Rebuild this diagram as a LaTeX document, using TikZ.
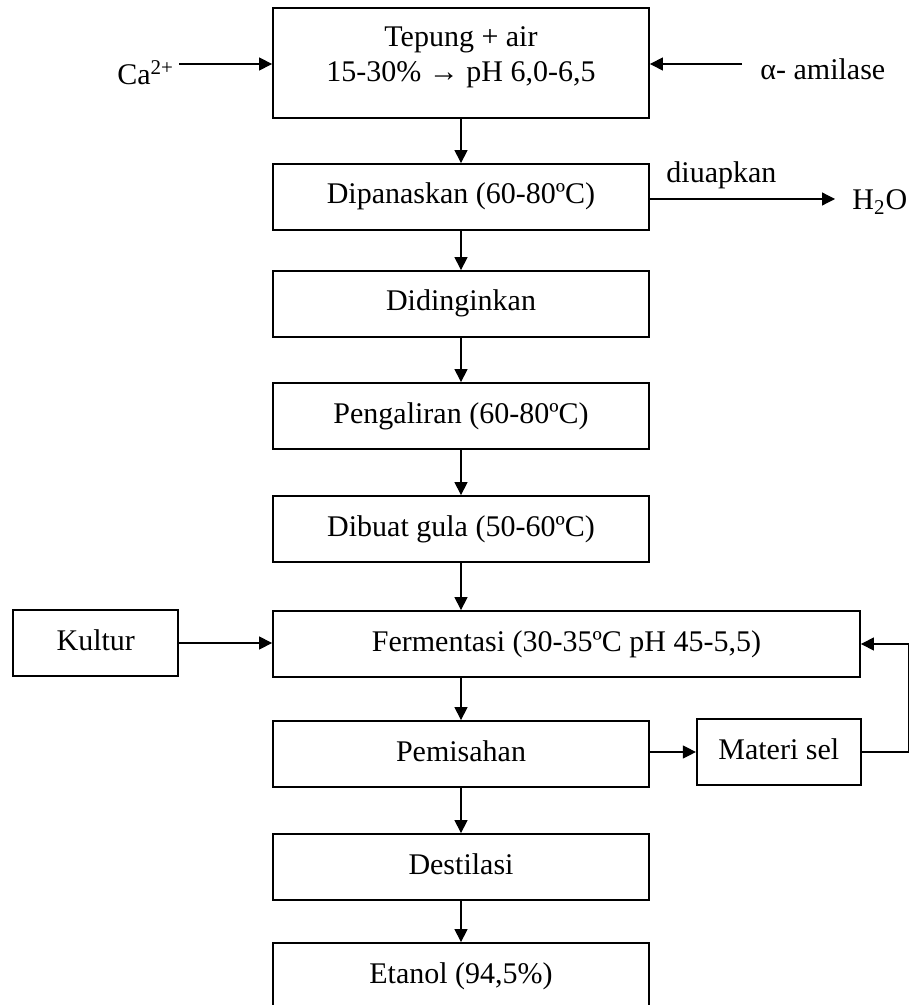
\documentclass[tikz,border=0pt]{standalone}
\usepackage{fontspec}
\setmainfont{Liberation Serif}
\usetikzlibrary{arrows.meta}
\begin{document}
\begin{tikzpicture}[x=0.5pt,y=-0.5pt,
  font=\fontsize{15}{17.5}\selectfont,
  box/.style={draw, line width=0.9pt, minimum width=188pt, minimum height=33pt, inner sep=0pt, text height=11pt, text depth=4pt},
  arr/.style={line width=0.6pt, -{Triangle[length=6.5pt,width=6.5pt]}},
  plain/.style={inner sep=0pt}]
\useasboundingbox (0,0) rectangle (911,1005);
\clip (0,0) rectangle (911,1005);
% main column
\node[box, minimum height=55pt] (b1) at (461,63) {};
\node[align=center, inner sep=0pt] (b1t) at (461,57) {Tepung + air\\15-30\% → pH 6,0-6,5};
\node[box] (b2) at (461,197) {Dipanaskan (60-80ºC)};
\node[box] (b3) at (461,304) {Didinginkan};
\node[box] (b4) at (461,416) {Pengaliran (60-80ºC)};
\node[box] (b5) at (461,529) {Dibuat gula (50-60ºC)};
\node[box, minimum width=293.5pt] (b6) at (566.5,644) {Fermentasi (30-35ºC pH 45-5,5)};
\node[box] (b7) at (461,754) {Pemisahan};
\node[box] (b8) at (461,867) {Destilasi};
\node[box] (b9) at (461,976) {Etanol (94,5\%)};
% side boxes
\node[box, minimum width=82.5pt] (kultur) at (95.8,643) {Kultur};
\node[box, minimum width=82pt] (materi) at (778.8,752) {Materi sel};
% side texts
\node[anchor=base west, inner ysep=0pt, inner xsep=0pt] (ca) at (117,85) {Ca\textsuperscript{2+}};
\node[anchor=base west, inner ysep=0pt, inner xsep=0pt] (amy) at (760,80) {α- amilase};
\node[anchor=base west, inner sep=0pt] (diu) at (666,183) {diuapkan};
\node[anchor=base west, inner sep=0pt] (h2o) at (852,210) {H\textsubscript{2}O};
\coordinate (caend) at (179,64);
\coordinate (amyend) at (742,64);
\coordinate (h2oend) at (835,199);
\coordinate (fb) at (908.7,752);
% connectors
\draw[arr] (b1) -- (b2);
\draw[arr] (b2) -- (b3);
\draw[arr] (b3) -- (b4);
\draw[arr] (b4) -- (b5);
\draw[arr] (b5.south) -- (b5.south |- b6.north);
\draw[arr] (b5.south |- b6.south) -- (b7.north);
\draw[arr] (b7) -- (b8);
\draw[arr] (b8) -- (b9);
\draw[arr] (caend) -- (caend -| b1.west);
\draw[arr] (amyend) -- (amyend -| b1.east);
\draw[arr] (b2.east |- h2oend) -- (h2oend);
\draw[arr] (kultur.east) -- (kultur.east -| b6.west);
\draw[arr] (b7.east |- materi.west) -- (materi.west);
\draw[arr] (materi.east) -- (fb) |- (b6.east);
\end{tikzpicture}
\end{document}
